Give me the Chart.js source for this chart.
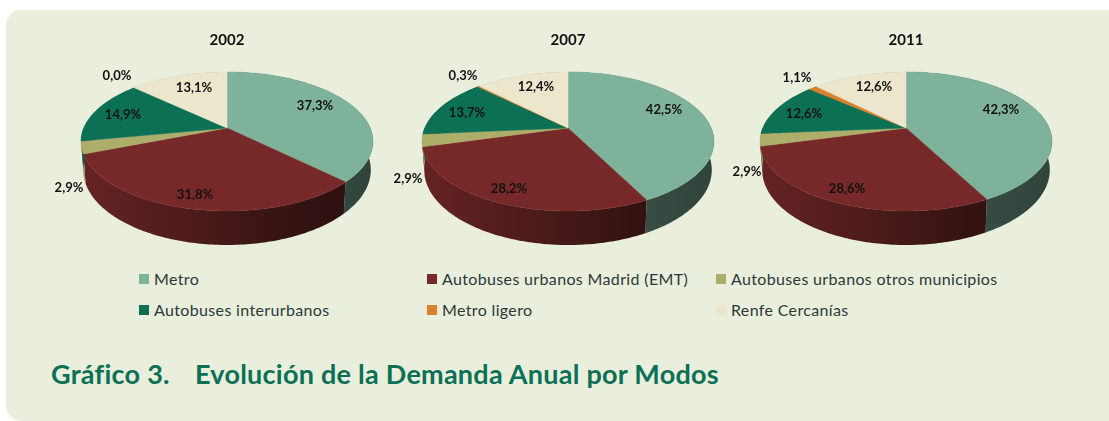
<!DOCTYPE html>
<html lang="es">

<head>
    <meta charset="UTF-8">
    <title>Evolución de la Demanda Anual por Modos</title>
    <script src="https://cdn.jsdelivr.net/npm/chart.js"></script>
    <style>
        html, body {
            margin: 0;
            width: 1109px;
            height: 421px;
            overflow: hidden;
            background: #fff;
            font-family: 'Lato', sans-serif;
        }

        .panel {
            position: absolute;
            left: 6px;
            top: 10px;
            width: 1103px;
            height: 411px;
            background: #eaeedd;
            border-radius: 15px 0 0 15px;
        }

        canvas {
            position: absolute;
            top: 20px;
        }

        .legend-item {
            position: absolute;
            font-size: 16px;
            letter-spacing: 0.35px;
            line-height: 20px;
            color: #2b3a38;
            white-space: nowrap;
        }

        .legend-item i {
            position: absolute;
            left: -15px;
            top: 5px;
            width: 10px;
            height: 10px;
        }

        .caption {
            position: absolute;
            top: 357px;
            font-size: 27px;
            letter-spacing: 0.25px;
            line-height: 34px;
            font-weight: bold;
            color: #0c7055;
            white-space: nowrap;
        }
    </style>
</head>

<body>
    <div class="panel"></div>
    <canvas id="chart2002" width="380" height="240" style="left:37px"></canvas>
    <canvas id="chart2007" width="380" height="240" style="left:378px"></canvas>
    <canvas id="chart2011" width="380" height="240" style="left:716px"></canvas>
    <div id="legend"></div>
    <div class="caption" style="left:51px">Gráfico 3.</div>
    <div class="caption" style="left:195px">Evolución de la Demanda Anual por Modos</div>

    <script>
        const categories = ['Metro', 'Autobuses urbanos Madrid (EMT)', 'Autobuses urbanos otros municipios',
            'Autobuses interurbanos', 'Metro ligero', 'Renfe Cercanías'];
        const colors = ['#7fb29b', '#772929', '#aeae6b', '#0c7055', '#d9812c', '#ebe6cc'];
        const values2002 = [37.3, 31.8, 2.9, 14.9, 0.0, 13.1];
        const values2007 = [42.5, 28.2, 2.9, 13.7, 0.3, 12.4];
        const values2011 = [42.3, 28.6, 2.9, 12.6, 1.1, 12.6];

        // pie look: a perspective view of a flat disc
        const RX = 143.2, RY = 66.9, TILT = 0.194, DEPTH = 27.4, RIM_SHRINK = 0.985, APEX_Y = 108;

        // where each percentage sits, relative to the middle of its pie
        const labelSpots2002 = [[88, -22], [-32, 67], [-158, 60], [-104, -13], [-110, -52], [-33, -40]];
        const labelSpots2007 = [[96, -18], [-59, 61], [-160, 51], [-101, -15], [-105, -52], [-32, -41]];
        const labelSpots2011 = [[95, -18], [-59, 61], [-159, 44], [-102, -14], [-109, -50], [-32, -41]];

        const legendSpots = [[154, 269], [442, 269], [731, 269], [154, 300], [442, 300], [731, 300]];

        function project(cx, angle, lower) {
            const u = Math.cos(angle), v = Math.sin(angle);
            const d = 1 - TILT * v;
            const x = RX * u / d, y = RY * v / d;
            if (lower) return [cx + x * RIM_SHRINK, APEX_Y + y + DEPTH / d];
            return [cx + x, APEX_Y + y];
        }

        function shade(hex, f) {
            const n = parseInt(hex.slice(1), 16);
            const c = [n >> 16, (n >> 8) & 255, n & 255].map(x => Math.round(x * f));
            return 'rgb(' + c.join(',') + ')';
        }

        function edge(a0, a1) {
            const steps = Math.max(2, Math.ceil((a1 - a0) * 60));
            const out = [];
            for (let i = 0; i <= steps; i++) out.push(a0 + (a1 - a0) * i / steps);
            return out;
        }

        // draws the arcs Chart.js laid out, bent into the tilted disc
        const tiltedPie = {
            id: 'tiltedPie',
            beforeDatasetsDraw(chart, args, opts) {
                const ctx = chart.ctx;
                const arcs = chart.getDatasetMeta(0).data;
                const cx = arcs[0].x;

                arcs.forEach((arc, i) => {
                    if (arc.endAngle - arc.startAngle <= 0) return;
                    const grad = ctx.createLinearGradient(cx - RX, 0, cx + RX, 0);
                    grad.addColorStop(0, shade(colors[i], 0.85));
                    grad.addColorStop(0.75, shade(colors[i], 0.43));
                    grad.addColorStop(1, shade(colors[i], 0.38));
                    const pts = edge(arc.startAngle, arc.endAngle);
                    ctx.beginPath();
                    pts.forEach(a => ctx.lineTo(...project(cx, a, false)));
                    pts.slice().reverse().forEach(a => ctx.lineTo(...project(cx, a, true)));
                    ctx.closePath();
                    ctx.fillStyle = grad;
                    ctx.fill();
                });

                arcs.forEach((arc, i) => {
                    if (arc.endAngle - arc.startAngle <= 0) return;
                    ctx.beginPath();
                    ctx.moveTo(cx, APEX_Y);
                    edge(arc.startAngle, arc.endAngle).forEach(a => ctx.lineTo(...project(cx, a, false)));
                    ctx.closePath();
                    ctx.fillStyle = colors[i];
                    ctx.strokeStyle = colors[i];
                    ctx.lineWidth = 0.5;
                    ctx.fill();
                    ctx.stroke();
                });

                ctx.font = 'bold 13px Lato';
                ctx.fillStyle = '#111';
                ctx.textAlign = 'center';
                ctx.textBaseline = 'middle';
                chart.data.datasets[0].data.forEach((val, i) => {
                    const spot = opts.spots[i];
                    ctx.fillText(val.toFixed(1).replace('.', ',') + '%', cx + spot[0], APEX_Y + spot[1]);
                });
                return false;
            }
        };

        function drawPie(id, year, values, spots) {
            new Chart(document.getElementById(id), {
                type: 'pie',
                data: {
                    labels: categories,
                    datasets: [{ data: values, backgroundColor: colors }]
                },
                options: {
                    responsive: false,
                    animation: false,
                    events: [],
                    plugins: {
                        legend: { display: false },
                        tooltip: { enabled: false },
                        title: {
                            display: true,
                            text: year,
                            color: '#111',
                            font: { family: 'Lato', size: 15, weight: 'bold' },
                            padding: { top: 11, bottom: 0 }
                        },
                        tiltedPie: { spots: spots }
                    }
                },
                plugins: [tiltedPie]
            });
        }

        drawPie('chart2002', '2002', values2002, labelSpots2002);
        drawPie('chart2007', '2007', values2007, labelSpots2007);
        drawPie('chart2011', '2011', values2011, labelSpots2011);

        const legend = document.getElementById('legend');
        categories.forEach((name, i) => {
            const item = document.createElement('div');
            item.className = 'legend-item';
            item.style.left = legendSpots[i][0] + 'px';
            item.style.top = legendSpots[i][1] + 'px';
            item.innerHTML = '<i style="background:' + colors[i] + '"></i>' + name;
            legend.appendChild(item);
        });
    </script>
</body>

</html>
